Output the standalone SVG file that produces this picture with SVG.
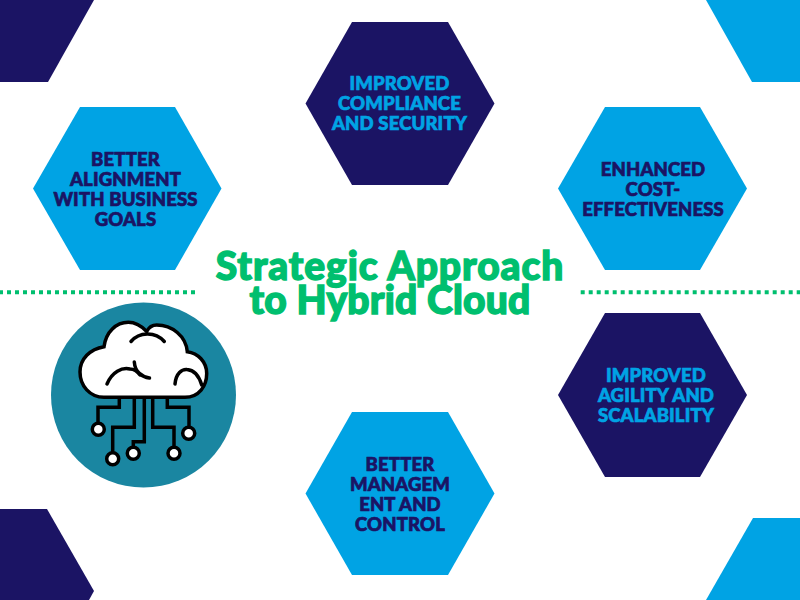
<svg xmlns="http://www.w3.org/2000/svg" width="800" height="600" viewBox="0 0 800 600">
<style>
.lb{fill:#00A3E4}.nv{fill:#1B1464}
text{font-family:"Lato","Noto Sans",sans-serif;font-weight:900;text-anchor:middle}
.t{font-size:18.5px;stroke-width:.7px;letter-spacing:.15px}
.d{fill:#1B1464;stroke:#1B1464}.c{fill:#00A3E4;stroke:#00A3E4}
.ti{font-size:39px;fill:#00BF6F;stroke:#00BF6F;stroke-width:1.4px}
.dot{stroke:#00BF6F;stroke-width:4px;stroke-dasharray:4 4;fill:none}
.k{fill:none;stroke:#000;stroke-width:3.500px}
.n{fill:#fff;stroke:#000;stroke-width:3.500px}
</style>
<rect width="800" height="600" fill="#fff"/>
<g id="corners">
<polygon class="nv" points="0,0 94,0 48,82 0,82"/>
<polygon class="lb" points="706,0 800,0 800,82 752,82"/>
<polygon class="nv" points="0,509 47,509 94,591 89,600 0,600"/>
<polygon class="lb" points="753,518 800,518 800,600 706,600"/>
</g>
<g id="node-compliance"><polygon class="nv" points="352,22 448,22 494.5,103.500 448,185 352,185 305.500,103.500"/>
<text class="t c"><tspan x="399.500" y="90">IMPROVED</tspan><tspan x="399.500" y="110">COMPLIANCE</tspan><tspan x="399.500" y="130">AND SECURITY</tspan></text></g>
<g id="node-alignment"><polygon class="lb" points="80,107 175,107 221.500,188.500 175,270 80,270 33,188.500"/>
<text class="t d"><tspan x="125.500" y="166">BETTER</tspan><tspan x="125.500" y="186">ALIGNMENT</tspan><tspan x="125.500" y="206">WITH BUSINESS</tspan><tspan x="125.500" y="226">GOALS</tspan></text></g>
<g id="node-cost"><polygon class="lb" points="605,107 700,107 747,188.500 700,270 605,270 558,188.500"/>
<text class="t d"><tspan x="653" y="176">ENHANCED</tspan><tspan x="653" y="196">COST-</tspan><tspan x="653" y="216">EFFECTIVENESS</tspan></text></g>
<g id="node-agility"><polygon class="nv" points="605,313 700,313 747,395 700,477 605,477 558,395"/>
<text class="t c"><tspan x="656" y="382">IMPROVED</tspan><tspan x="656" y="402">AGILITY AND</tspan><tspan x="656" y="422">SCALABILITY</tspan></text></g>
<g id="node-management"><polygon class="lb" points="352,412 448,412 494.5,493.500 448,575 352,575 305.500,493.500"/>
<text class="t d"><tspan x="400" y="471">BETTER</tspan><tspan x="400" y="491">MANAGEM</tspan><tspan x="400" y="511">ENT AND</tspan><tspan x="400" y="531">CONTROL</tspan></text></g>
<g id="title"><text class="ti" x="390" y="280" letter-spacing=".9">Strategic Approach</text><text class="ti" x="390" y="314" font-size="38" letter-spacing=".2">to Hybrid Cloud</text></g>
<g id="connectors">
<path class="dot" d="M-1,292.200H195"/>
<path class="dot" d="M580.700,292.200H800"/>
</g>
<g id="cloud-icon">
<circle cx="143.500" cy="395" r="92.500" fill="#1A86A1"/>
<path class="k" d="M119.300,397V407.300H98V424M134.300,397V427.300H112.700V453M144.300,397V441.700H133.300V448M152.700,397V427.300H174V448M167.300,397V407.300H189V428"/>
<circle class="n" cx="98.300" cy="429.300" r="6"/><circle class="n" cx="112.700" cy="458.700" r="6"/><circle class="n" cx="133.300" cy="453.300" r="6"/><circle class="n" cx="174" cy="453.300" r="6"/><circle class="n" cx="188.700" cy="433.300" r="6"/>
<path class="n" d="M104,397.300H185C199,397.300 206.700,386 206.700,373.500C206.700,362 198,353 187.300,351.700C186,336 172,325 156.700,325C153,325 149,327 146.700,331.500C141,325.500 135,322.300 128.300,322.300C116,322.300 106,332 104,346.700C90,349 80,359 80,372C80,386 90,397.300 104,397.300Z"/>
<path class="k" stroke-linecap="round" d="M131,341.500C139,332 155,331 164.300,341.500M107,384C112,372 122,367 130,369C134,369 137,371 140,375M134.300,362C135,372 142,377 149.500,378M175,384C176,373 182,369 187,369.500C194,370 199,376 201.700,385"/>
</g>
</svg>
